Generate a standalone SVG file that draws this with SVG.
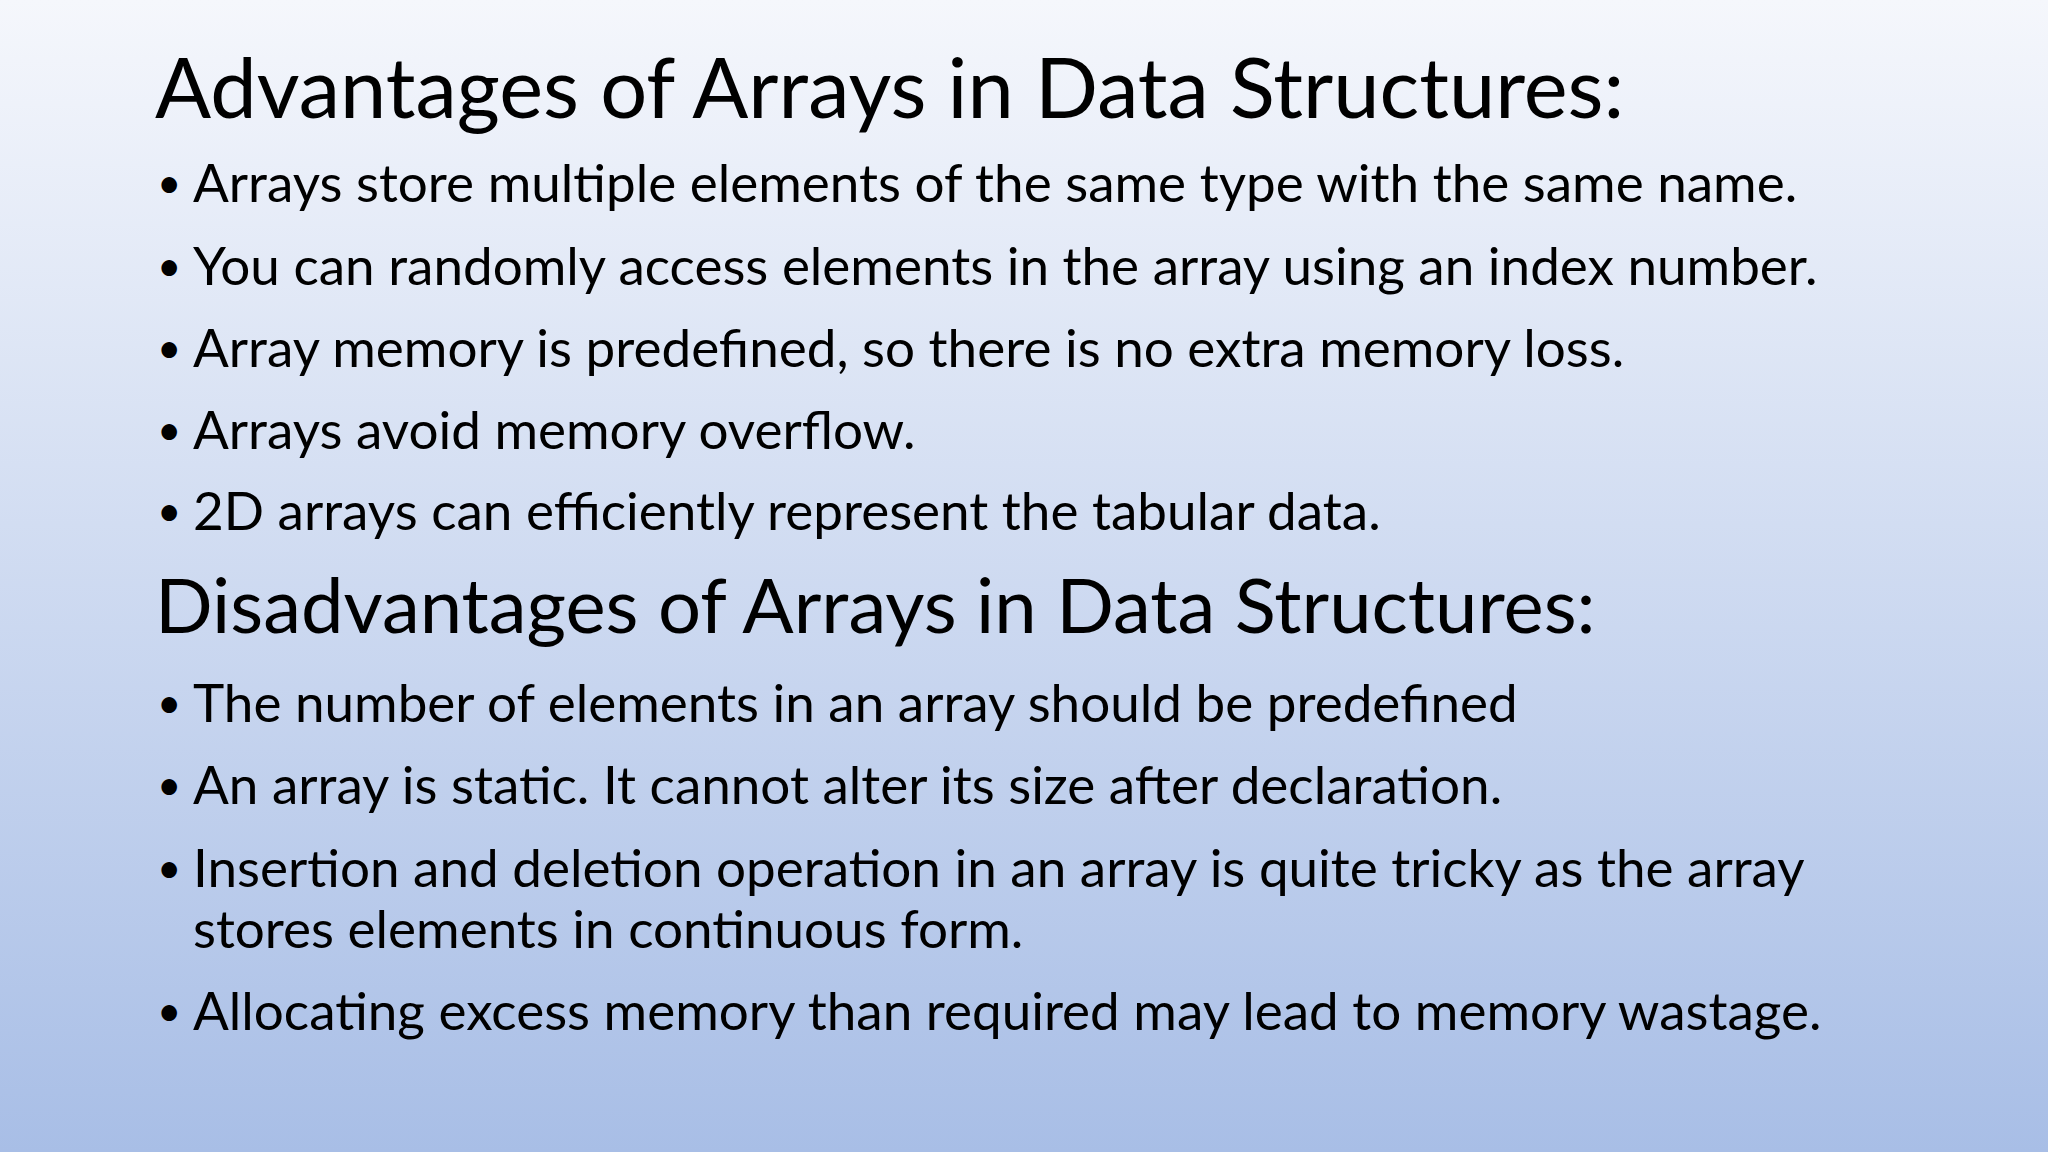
<svg xmlns="http://www.w3.org/2000/svg" width="2048" height="1152" viewBox="0 0 2048 1152">
<defs>
<linearGradient id="bg" x1="0" y1="0" x2="0" y2="1">
<stop offset="0" stop-color="#f5f7fc"/>
<stop offset="1" stop-color="#a8bee6"/>
</linearGradient>
<style>
.t{font-family:Lato,"Noto Sans",sans-serif;font-size:83px;fill:#000}
.t2{font-family:Lato,"Noto Sans",sans-serif;font-size:76px;fill:#000}
.b{font-family:Lato,"Noto Sans",sans-serif;font-size:53px;fill:#000}
.d{font-family:Lato,"Noto Sans",sans-serif;font-size:42px;fill:#000}
</style>
</defs>
<rect width="2048" height="1152" fill="url(#bg)"/>
<text class="t" x="155" y="118">Advantages of Arrays in Data Structures:</text>
<g>
<text class="d" x="157" y="198">•</text><text class="b" x="193" y="202">Arrays store multiple elements of the same type with the same name.</text>
<text class="d" x="157" y="281">•</text><text class="b" x="193" y="285">You can randomly access elements in the array using an index number.</text>
<text class="d" x="157" y="363">•</text><text class="b" x="193" y="367">Array memory is predefined, so there is no extra memory loss.</text>
<text class="d" x="157" y="445">•</text><text class="b" x="193" y="449">Arrays avoid memory overflow.</text>
<text class="d" x="157" y="526">•</text><text class="b" x="193" y="530">2D arrays can efficiently represent the tabular data.</text>
</g>
<text class="t2" x="155" y="633">Disadvantages of Arrays in Data Structures:</text>
<g>
<text class="d" x="157" y="718">•</text><text class="b" x="193" y="722">The number of elements in an array should be predefined</text>
<text class="d" x="157" y="800">•</text><text class="b" x="193" y="804">An array is static. It cannot alter its size after declaration.</text>
<text class="d" x="157" y="883">•</text><text class="b" x="193" y="887">Insertion and deletion operation in an array is quite tricky as the array</text>
<text class="b" x="193" y="948">stores elements in continuous form.</text>
<text class="d" x="157" y="1026">•</text><text class="b" x="193" y="1030">Allocating excess memory than required may lead to memory wastage.</text>
</g>
</svg>
